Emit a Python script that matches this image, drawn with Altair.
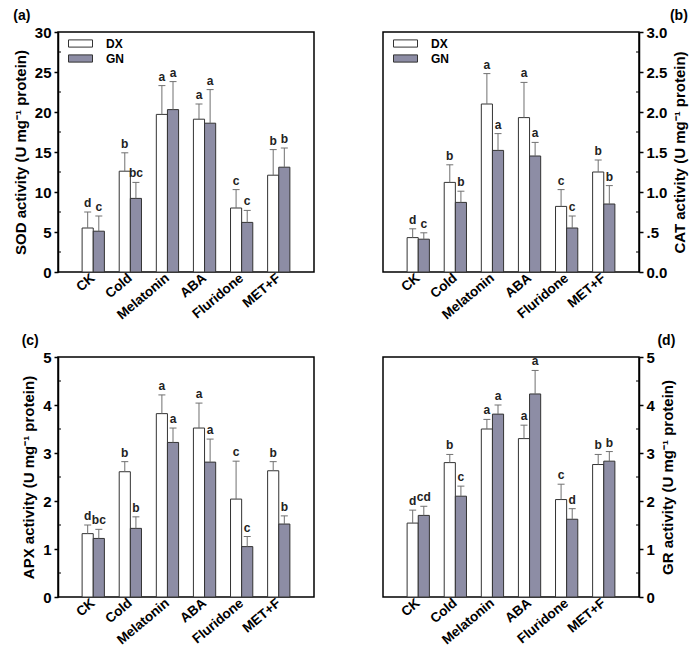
import altair as alt
import pandas as pd

categories = ["CK", "Cold", "Melatonin", "ABA", "Fluridone", "MET+F"]
series = ["DX", "GN"]

# (a) SOD
sod_dx = [5.5, 12.6, 19.7, 19.1, 8.0, 12.1]
sod_gn = [5.1, 9.2, 20.3, 18.6, 6.2, 13.1]
sod_dx_top = [7.5, 14.9, 23.3, 21.0, 10.3, 15.3]
sod_gn_top = [7.0, 11.2, 23.8, 22.8, 7.7, 15.5]
sod_dx_let = ["d", "b", "a", "a", "c", "b"]
sod_gn_let = ["c", "bc", "a", "a", "c", "b"]

# (b) CAT
cat_dx = [0.43, 1.12, 2.10, 1.93, 0.82, 1.25]
cat_gn = [0.41, 0.87, 1.52, 1.45, 0.55, 0.85]
cat_dx_top = [0.54, 1.34, 2.48, 2.37, 1.03, 1.40]
cat_gn_top = [0.49, 1.01, 1.73, 1.62, 0.70, 1.08]
cat_dx_let = ["d", "b", "a", "a", "c", "b"]
cat_gn_let = ["c", "b", "a", "a", "c", "b"]

# (c) APX
apx_dx = [1.32, 2.61, 3.82, 3.52, 2.04, 2.63]
apx_gn = [1.22, 1.43, 3.22, 2.81, 1.05, 1.52]
apx_dx_top = [1.50, 2.82, 4.21, 4.04, 2.83, 2.82]
apx_gn_top = [1.41, 1.67, 3.52, 3.29, 1.26, 1.69]
apx_dx_let = ["d", "b", "a", "a", "c", "b"]
apx_gn_let = ["bc", "b", "a", "a", "c", "b"]

# (d) GR
gr_dx = [1.54, 2.80, 3.50, 3.30, 2.03, 2.76]
gr_gn = [1.70, 2.10, 3.81, 4.23, 1.62, 2.83]
gr_dx_top = [1.81, 2.97, 3.70, 3.58, 2.35, 2.97]
gr_gn_top = [1.89, 2.31, 4.00, 4.72, 1.84, 3.03]
gr_dx_let = ["d", "b", "a", "a", "c", "b"]
gr_gn_let = ["cd", "c", "a", "a", "d", "b"]

sod_ticks = [0, 5, 10, 15, 20, 25, 30]
sod_minor = [2.5, 7.5, 12.5, 17.5, 22.5, 27.5]
cat_ticks = [0, 0.5, 1.0, 1.5, 2.0, 2.5, 3.0]
cat_minor = [0.25, 0.75, 1.25, 1.75, 2.25, 2.75]
five_ticks = [0, 1, 2, 3, 4, 5]
five_minor = [0.5, 1.5, 2.5, 3.5, 4.5]

W, H = 256, 240
FONT = "Liberation Sans"
GN_COLOR = "#8d8da5"
ERR_COLOR = "#707070"

RECT = "M-2,-0.6L2,-0.6L2,0.6L-2,0.6Z"


def panel(dx, gn, dxt, gnt, dxl, gnl, ytitle, ymax, ticks, minor, side, tag,
          legend, label_expr):
    rows = []
    for i, c in enumerate(categories):
        rows.append(dict(cat=c, s="DX", v=dx[i], top=dxt[i], let=dxl[i]))
        rows.append(dict(cat=c, s="GN", v=gn[i], top=gnt[i], let=gnl[i]))
    df = pd.DataFrame(rows)

    xenc = alt.X(
        "cat:N", sort=categories,
        scale=alt.Scale(paddingInner=0.4, paddingOuter=0.65),
        axis=alt.Axis(title=None, labelAngle=-40, ticks=False, domain=False,
                      labelFontSize=13.5, labelFontWeight="bold",
                      labelAlign="right", labelBaseline="middle",
                      labelPadding=4, labelColor="black", labelFont=FONT),
    )
    xoff = alt.XOffset("s:N", sort=series,
                       scale=alt.Scale(paddingInner=0, paddingOuter=0))
    yscale = alt.Scale(domain=[0, ymax], nice=False, zero=True)
    yaxis = alt.Axis(
        orient=side, values=ticks, title=ytitle, grid=False,
        titleAngle=270, titleFontSize=15, titleFontWeight="bold",
        titleFont=FONT, titleColor="black", titlePadding=6,
        titleBaseline="bottom" if side == "left" else "top",
        labelFontSize=15, labelFontWeight="bold", labelFont=FONT,
        labelColor="black", labelPadding=3, tickSize=4, tickWidth=1.5,
        tickColor="black", domainColor="black", domainWidth=1.5,
        labelExpr=label_expr, labelOverlap=False, labelFlush=False,
    )
    if legend:
        leg = alt.Legend(
            orient="none", legendX=16, legendY=5, title=None,
            symbolType=RECT, symbolSize=144, symbolStrokeColor="#333333",
            symbolStrokeWidth=1, symbolOpacity=1, labelFontSize=12,
            labelFontWeight="bold", labelFont=FONT, labelColor="black",
            rowPadding=2, labelOffset=19,
        )
    else:
        leg = None
    fill = alt.Fill("s:N", sort=series,
                    scale=alt.Scale(domain=series, range=["white", GN_COLOR]),
                    legend=leg)

    base = alt.Chart(df).encode(x=xenc, xOffset=xoff)
    bars = base.mark_bar(stroke="#333333", strokeWidth=1, opacity=1).encode(
        y=alt.Y("v:Q", scale=yscale, axis=yaxis), fill=fill)
    err = base.mark_rule(color=ERR_COLOR, strokeWidth=1).encode(
        y=alt.Y("v:Q", scale=yscale, axis=yaxis), y2="top:Q")
    caps = base.mark_tick(orient="horizontal", size=7, thickness=1,
                          color=ERR_COLOR, opacity=1).encode(
        y=alt.Y("top:Q", scale=yscale, axis=yaxis))
    letters = base.mark_text(baseline="bottom", dy=-2, fontSize=12,
                             fontWeight="bold", font=FONT,
                             color="#222222").encode(
        y=alt.Y("top:Q", scale=yscale, axis=yaxis), text="let:N")
    if side == "left":
        mx, mx2 = 0, 3
    else:
        mx, mx2 = W - 3, W
    minor_layer = alt.Chart(pd.DataFrame({"m": minor})).mark_rule(
        color="black", strokeWidth=1).encode(
        y=alt.Y("m:Q", scale=yscale, axis=yaxis),
        x=alt.value(mx), x2=alt.value(mx2))

    title = alt.Title(tag, anchor="start" if side == "left" else "end",
                      frame="bounds", fontSize=14, fontWeight="bold",
                      font=FONT, color="black", offset=2)
    return alt.layer(bars, err, caps, letters, minor_layer).properties(
        width=W, height=H, title=title)


pa = panel(sod_dx, sod_gn, sod_dx_top, sod_gn_top, sod_dx_let, sod_gn_let,
           "SOD activity (U mg⁻¹ protein)", 30, sod_ticks, sod_minor, "left",
           "(a)", True, "format(datum.value, 'd')")
pb = panel(cat_dx, cat_gn, cat_dx_top, cat_gn_top, cat_dx_let, cat_gn_let,
           "CAT activity (U mg⁻¹ protein)", 3, cat_ticks, cat_minor, "right",
           "(b)", True,
           "datum.value == 0.5 ? '.5' : format(datum.value, '.1f')")
pc = panel(apx_dx, apx_gn, apx_dx_top, apx_gn_top, apx_dx_let, apx_gn_let,
           "APX activity (U mg⁻¹ protein)", 5, five_ticks, five_minor, "left",
           "(c)", False, "format(datum.value, 'd')")
pd_ = panel(gr_dx, gr_gn, gr_dx_top, gr_gn_top, gr_dx_let, gr_gn_let,
            "GR activity (U mg⁻¹ protein)", 5, five_ticks, five_minor, "right",
            "(d)", False, "format(datum.value, 'd')")

top = alt.hconcat(pa, pb, spacing=67).resolve_scale(
    fill="independent").resolve_legend(fill="independent")
bottom = alt.hconcat(pc, pd_, spacing=67).resolve_scale(
    fill="independent").resolve_legend(fill="independent")

chart = alt.vconcat(top, bottom, spacing=10).resolve_scale(
    fill="independent").resolve_legend(fill="independent").configure(
    padding={"left": 4, "top": 0, "right": 0, "bottom": 0},
    background="white",
).configure_view(stroke="black", strokeWidth=1.5)

chart.save("out.html", embed_options={"renderer": "svg", "actions": False})
